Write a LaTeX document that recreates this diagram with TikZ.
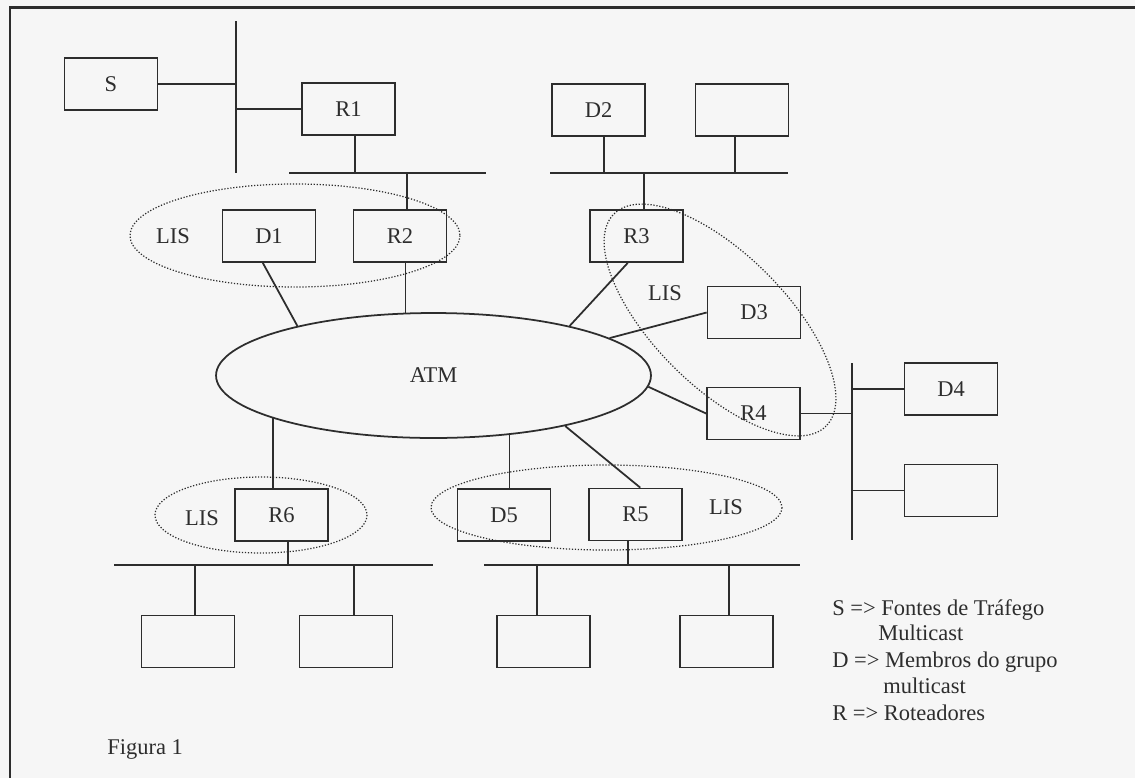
\documentclass[tikz,border=0pt]{standalone}
\usepackage{fontspec}
\setmainfont{Liberation Serif}
\usetikzlibrary{shapes.geometric,calc}
\definecolor{paper}{RGB}{246,246,246}
\definecolor{ink}{RGB}{45,45,45}
\tikzstyle{host}=[draw=ink, line width=1pt, minimum width=1.86cm, minimum height=1.04cm, inner sep=0pt]
\tikzstyle{wire}=[draw=ink, line width=1pt]
\tikzstyle{lis}=[draw=ink, densely dotted, line width=0.7pt]
\tikzstyle{note}=[anchor=base west, inner sep=0pt]

\begin{document}
\begin{tikzpicture}[x=0.02cm, y=-0.02cm, font=\fontsize{12.8}{15}\selectfont, text=ink]
\fill[paper] (0,0) rectangle (1135,778);
\useasboundingbox (0,0) rectangle (1135,778);
\coordinate (F1) at (1135,7.5);
\coordinate (F2) at (10,7.5);
\coordinate (F3) at (10,778);
\draw[wire, line width=1.3pt] (F1) -- (F2) -- (F3);
% hosts and routers
\node[host] (S) at (111,84) {S};
\node[host] (R1) at (348.5,109) {R1};
\node[host] (D1) at (269,236) {D1};
\node[host] (R2) at (400,236) {R2};
\node[host] (D2) at (598.5,110) {D2};
\node[host] (H1) at (742,110) {};
\node[host] (R3) at (636.5,236) {R3};
\node[host] (D3) at (754,312.5) {D3};
\node[host] (R4) at (753.5,413.5) {R4};
\node[host] (D4) at (951,389) {D4};
\node[host] (H2) at (951,490.5) {};
\node[host] (R6) at (281.5,515) {R6};
\node[host] (D5) at (504,515) {D5};
\node[host] (R5) at (635.5,514.5) {R5};
\node[host] (H3) at (188,641.5) {};
\node[host] (H4) at (346,641.5) {};
\node[host] (H5) at (543.5,641.5) {};
\node[host] (H6) at (726.5,641.5) {};
\node[ellipse, draw=ink, line width=1pt, minimum width=8.7cm, minimum height=2.5cm, inner sep=0pt] (Atm) at (433.5,375.5) {ATM};
% LIS
\node (L1) at (173,236) {LIS};
\node (L2) at (665,293) {LIS};
\node (L3) at (202,518) {LIS};
\node (L4) at (726,507) {LIS};
\draw[lis] (295,235.5) ellipse [x radius=165, y radius=51.5];
\draw[lis, rotate around={-45:(720,320)}] (720,320) ellipse [x radius=150, y radius=66];
\draw[lis] (261,515) ellipse [x radius=106, y radius=38];
\draw[lis] (606.5,507.5) ellipse [x radius=175.5, y radius=42.5];
% buses
\coordinate (B1n) at (236,21);
\coordinate (B1s) at (236,173);
\coordinate (B2w) at (289,173);
\coordinate (B2e) at (486,173);
\coordinate (B3w) at (550,173);
\coordinate (B3e) at (788,173);
\coordinate (B4n) at (852,363);
\coordinate (B4s) at (852,540);
\coordinate (B5w) at (114,565);
\coordinate (B5e) at (433,565);
\coordinate (B6w) at (484,565);
\coordinate (B6e) at (800,565);
\coordinate (T1) at (355,173);
\coordinate (T2) at (407,173);
\coordinate (T3) at (604,173);
\coordinate (T4) at (735,173);
\coordinate (T5) at (644,173);
\coordinate (T6) at (288,565);
\coordinate (T7) at (195,565);
\coordinate (T8) at (354,565);
\coordinate (T9) at (628,565);
\coordinate (T10) at (537,565);
\coordinate (T11) at (729,565);
\draw[wire] (B1n) -- (B1s);
\draw[wire] (S.east) -- (S.east -| B1n);
\draw[wire] (R1.west) -- (R1.west -| B1n);
\draw[wire] (B2w) -- (B2e);
\draw[wire] (T1 |- R1.south) -- (T1);
\draw[wire] (T2) -- (T2 |- R2.north);
\draw[wire] (B3w) -- (B3e);
\draw[wire] (T3 |- D2.south) -- (T3);
\draw[wire] (T4 |- H1.south) -- (T4);
\draw[wire] (T5) -- (T5 |- R3.north);
\draw[wire] (B4n) -- (B4s);
\draw[wire] (D4.west) -- (D4.west -| B4n);
\draw[wire] (R4.east) -- (R4.east -| B4n);
\draw[wire] (H2.west) -- (H2.west -| B4n);
\draw[wire] (B5w) -- (B5e);
\draw[wire] (T6 |- R6.south) -- (T6);
\draw[wire] (T7) -- (T7 |- H3.north);
\draw[wire] (T8) -- (T8 |- H4.north);
\draw[wire] (B6w) -- (B6e);
\draw[wire] (T9 |- R5.south) -- (T9);
\draw[wire] (T10) -- (T10 |- H5.north);
\draw[wire] (T11) -- (T11 |- H6.north);
% links to the ATM cloud
\draw[wire] (D1.-103) -- (Atm.160);
\draw[wire] (Atm.114) -- (Atm.114 |- R2.south);
\draw[wire] (R3.-108) -- (Atm.20);
\draw[wire] (D3.west) -- (Atm.12);
\draw[wire] (R4.west) -- (Atm.-3);
\draw[wire] (R5.80) -- (Atm.-21);
\draw[wire] (Atm.-38) -- (Atm.-38 |- D5.north);
\draw[wire] (Atm.-165) -- (Atm.-165 |- R6.north);
% legend
\node[note] (K1) at (832,615) {S => Fontes de Tráfego};
\node[note] (K2) at (878,640) {Multicast};
\node[note] (K3) at (832,667) {D => Membros do grupo};
\node[note] (K4) at (883,693) {multicast};
\node[note] (K5) at (832,720) {R => Roteadores};
\node[note] (Fig) at (107,754) {Figura 1};
\end{tikzpicture}
\end{document}
